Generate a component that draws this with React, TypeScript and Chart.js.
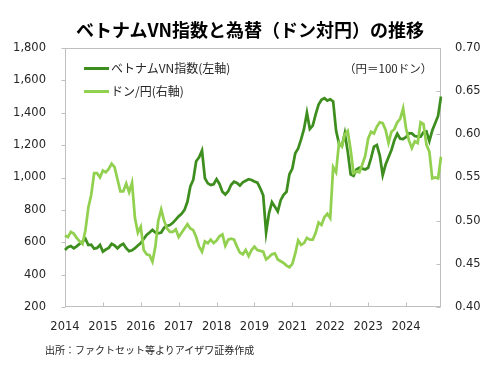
import React, { useEffect, useRef } from "react";
import { Chart, registerables } from "chart.js";

Chart.register(...registerables);

// Year tick labels (shown every 13 points, as in the source chart)
const yearLabels = ["2014", "2015", "2016", "2017", "2018", "2019", "2021", "2022", "2023", "2024"];
const labelStep = 13;

// ベトナムVN指数 (left axis)
const vnIndex = [
  552, 570, 577, 563, 575, 590, 605, 622, 583, 585,
  560, 565, 583, 542, 555, 565, 590, 580, 563, 580,
  590, 563, 545, 550, 563, 580, 595, 620, 645, 660,
  676, 660, 655, 660, 690, 700, 706, 720, 740, 760,
  775, 800, 850, 945, 985, 1100, 1125, 1166, 995, 964,
  954, 958, 990, 960, 912, 895, 915, 955, 974, 966,
  950, 970, 980, 989, 985, 975, 968, 933, 890, 660,
  780, 848, 820, 790, 860, 893, 912, 1020, 1055, 1150,
  1180, 1235, 1300, 1400, 1300, 1320, 1390, 1450, 1480, 1490,
  1475, 1483, 1470, 1290, 1210, 1195, 1273, 1160, 1020, 1010,
  1050, 1060, 1055, 1050, 1060, 1120, 1190, 1200, 1135, 1015,
  1080, 1125, 1170, 1230, 1270, 1240, 1238, 1250, 1273, 1272,
  1256, 1252, 1252, 1280, 1285, 1225, 1290, 1335, 1380, 1500,
];

// ドン/円 (right axis, 円 per 100ドン)
const vndJpy = [
  0.483, 0.481, 0.487, 0.485, 0.480, 0.476, 0.473, 0.489, 0.515, 0.530,
  0.555, 0.555, 0.550, 0.558, 0.556, 0.560, 0.566, 0.562, 0.548, 0.534,
  0.534, 0.543, 0.533, 0.544, 0.503, 0.486, 0.493, 0.466, 0.461, 0.460,
  0.4525, 0.470, 0.500, 0.513, 0.500, 0.491, 0.487, 0.487, 0.490, 0.481,
  0.486, 0.491, 0.496, 0.491, 0.489, 0.481, 0.470, 0.464, 0.476, 0.474,
  0.478, 0.474, 0.477, 0.482, 0.484, 0.471, 0.478, 0.479, 0.478, 0.470,
  0.463, 0.461, 0.466, 0.459, 0.466, 0.470, 0.466, 0.465, 0.464, 0.455,
  0.458, 0.461, 0.462, 0.455, 0.453, 0.451, 0.448, 0.446, 0.450, 0.462,
  0.477, 0.472, 0.474, 0.480, 0.478, 0.478, 0.486, 0.498, 0.495, 0.504,
  0.508, 0.503, 0.562, 0.556, 0.590, 0.586, 0.600, 0.604, 0.582, 0.555,
  0.557, 0.556, 0.565, 0.575, 0.595, 0.603, 0.601, 0.609, 0.614, 0.613,
  0.605, 0.590, 0.603, 0.606, 0.614, 0.618, 0.630, 0.607, 0.593, 0.584,
  0.592, 0.590, 0.614, 0.612, 0.588, 0.580, 0.549, 0.550, 0.549, 0.574,
];

const categories = vnIndex.map((_, i) =>
  i % labelStep === 0 && yearLabels[i / labelStep] ? yearLabels[i / labelStep] : ""
);

const DARK = "#3e8e1f";
const LIGHT = "#92d050";
const AXIS = "#bfbfbf";
const TEXT = "#262626";
const JP = '"Noto Sans CJK JP", "Noto Sans", sans-serif';
const NUM = '"DejaVu Sans", Verdana, sans-serif';

const framePlugin = {
  id: "frame",
  beforeDatasetsDraw(chart: any) {
    const { ctx, chartArea: a, scales } = chart;
    ctx.save();
    ctx.strokeStyle = AXIS;
    ctx.lineWidth = 1;
    const L = Math.round(a.left) + 0.5;
    const R = Math.round(a.right) - 0.5;
    const T = Math.round(a.top) + 0.5;
    const B = Math.round(a.bottom) - 0.5;
    ctx.strokeRect(L, T, R - L, B - T);
    ctx.beginPath();
    scales.y.ticks.forEach((t: any) => {
      const y = Math.round(scales.y.getPixelForValue(t.value)) + 0.5;
      ctx.moveTo(L - 4, y);
      ctx.lineTo(L, y);
    });
    scales.y1.ticks.forEach((t: any) => {
      const y = Math.round(scales.y1.getPixelForValue(t.value)) + 0.5;
      ctx.moveTo(R - 4, y);
      ctx.lineTo(R, y);
    });
    categories.forEach((c, i) => {
      if (!c) return;
      const x = Math.round(scales.x.getPixelForValue(i)) + 0.5;
      ctx.moveTo(x, B);
      ctx.lineTo(x, B - 4);
    });
    ctx.stroke();
    ctx.restore();
  },
};

export default function App() {
  const ref = useRef<HTMLCanvasElement | null>(null);

  useEffect(() => {
    if (!ref.current) return;
    const chart = new Chart(ref.current, {
      type: "line",
      data: {
        labels: categories,
        datasets: [
          {
            label: "ベトナムVN指数(左軸)",
            data: vnIndex,
            yAxisID: "y",
            borderColor: DARK,
            backgroundColor: DARK,
            borderWidth: 2.75,
            pointRadius: 0,
            tension: 0,
            order: 2,
          },
          {
            label: "ドン/円(右軸)",
            data: vndJpy,
            yAxisID: "y1",
            borderColor: LIGHT,
            backgroundColor: LIGHT,
            borderWidth: 2.75,
            pointRadius: 0,
            tension: 0,
            order: 1,
          },
        ],
      },
      options: {
        animation: false,
        responsive: false,
        maintainAspectRatio: false,
        layout: { padding: { top: 48, left: 0, right: 0, bottom: 0 } },
        plugins: { legend: { display: false }, tooltip: { enabled: false }, title: { display: false } },
        scales: {
          x: {
            type: "category",
            offset: false,
            grid: { display: false, drawTicks: false },
            border: { display: false },
            ticks: {
              autoSkip: false,
              maxRotation: 0,
              minRotation: 0,
              padding: 13,
              color: TEXT,
              font: { family: NUM, size: 11.5 },
              callback: (_v: any, i: number) => categories[i],
            },
            afterFit: (s: any) => {
              s.height = 67;
            },
          },
          y: {
            position: "left",
            min: 200,
            max: 1800,
            grid: { display: false, drawTicks: false },
            border: { display: false },
            ticks: {
              stepSize: 200,
              padding: 19,
              color: TEXT,
              font: { family: NUM, size: 11.5 },
              callback: (v: any) => Number(v).toLocaleString("en-US"),
            },
            afterFit: (s: any) => {
              s.width = 65;
            },
          },
          y1: {
            position: "right",
            min: 0.4,
            max: 0.7,
            grid: { display: false, drawTicks: false },
            border: { display: false },
            ticks: {
              stepSize: 0.05,
              padding: 14,
              color: TEXT,
              font: { family: NUM, size: 11.5 },
              callback: (v: any) => Number(v).toFixed(2),
            },
            afterFit: (s: any) => {
              s.width = 59;
            },
          },
        },
      },
      plugins: [framePlugin],
    });
    return () => chart.destroy();
  }, []);

  const abs = (o: React.CSSProperties): React.CSSProperties => ({ position: "absolute", whiteSpace: "nowrap", ...o });

  return (
    <div style={{ position: "fixed", left: 0, top: 0, width: 500, height: 374, background: "#fff", overflow: "hidden" }}>
      <canvas ref={ref} width={500} height={374} style={{ position: "absolute", left: 0, top: 0, width: 500, height: 374 }} />
      <div
        style={abs({
          left: 0,
          width: 500,
          top: 19,
          textAlign: "center",
          fontFamily: JP,
          fontWeight: 700,
          fontSize: 18,
          lineHeight: "20px",
          color: "#000",
        })}
      >
        ベトナムVN指数と為替（ドン対円）の推移
      </div>
      <div style={abs({ left: 84, top: 67, width: 25, height: 3, background: DARK })} />
      <div style={abs({ left: 111, top: 59, fontFamily: JP, fontSize: 12, lineHeight: "18px", color: TEXT })}>
        ベトナムVN指数(左軸)
      </div>
      <div style={abs({ left: 84, top: 90, width: 25, height: 3, background: LIGHT })} />
      <div style={abs({ left: 111, top: 82, fontFamily: JP, fontSize: 12, lineHeight: "18px", color: TEXT })}>
        ドン/円(右軸)
      </div>
      <div style={abs({ left: 344, top: 59, fontFamily: JP, fontSize: 11.5, lineHeight: "18px", color: TEXT })}>
        （円＝100ドン）
      </div>
      <div style={abs({ left: 45, top: 342, fontFamily: JP, fontSize: 10, lineHeight: "16px", color: TEXT })}>
        出所：ファクトセット等よりアイザワ証券作成
      </div>
    </div>
  );
}
